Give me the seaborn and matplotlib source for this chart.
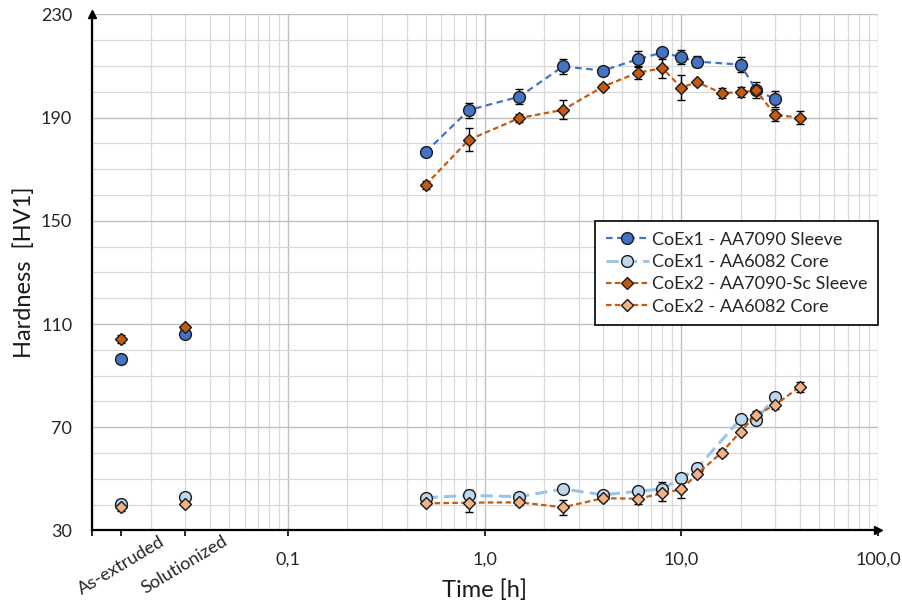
import numpy as np
import pandas as pd
import matplotlib.pyplot as plt
import seaborn as sns
from matplotlib.ticker import LogLocator, MultipleLocator, NullLocator, NullFormatter

# ── Data ──
# aged states, time in hours
t_sleeve1 = [0.5, 0.83, 1.5, 2.5, 4, 6, 8, 10, 12, 20, 24, 30]
hv_sleeve1 = [176.6, 192.9, 198.1, 209.8, 208.2, 212.6, 215.2, 213.4, 211.7, 210.5, 200.7, 197.1]
err_sleeve1 = [0.5, 2.9, 3.0, 3.0, 0.5, 3.0, 1.0, 2.6, 2.3, 3.0, 3.0, 3.0]

t_core1 = [0.5, 0.83, 1.5, 2.5, 4, 6, 8, 10, 12, 20, 24, 30]
hv_core1 = [42.7, 43.6, 43.1, 46.1, 43.8, 45.2, 46.1, 50.2, 54.1, 73.2, 72.8, 81.9]
err_core1 = [0.5, 2.0, 0.5, 0.5, 0.5, 0.5, 2.5, 0.5, 0.5, 1.0, 0.5, 0.5]

t_sleeve2 = [0.5, 0.83, 1.5, 2.5, 4, 6, 8, 10, 12, 16, 20, 24, 30, 40]
hv_sleeve2 = [163.9, 181.4, 189.8, 193.0, 202.0, 207.4, 209.1, 201.6, 203.7, 199.5, 199.8, 200.5, 191.0, 190.0]
err_sleeve2 = [1.5, 4.5, 1.5, 3.7, 1.0, 2.6, 3.6, 4.8, 1.0, 2.0, 2.0, 1.0, 2.3, 2.6]

t_core2 = [0.5, 0.83, 1.5, 2.5, 4, 6, 8, 10, 12, 16, 20, 24, 30, 40]
hv_core2 = [40.5, 40.8, 40.9, 39.0, 42.5, 42.3, 44.4, 46.0, 51.8, 60.2, 68.3, 74.8, 78.6, 85.7]
err_core2 = [0.5, 3.5, 1.0, 3.0, 1.0, 2.0, 3.0, 3.5, 1.0, 1.5, 1.0, 1.5, 1.5, 2.0]

# as-extruded / solutionized states, placed left of the time axis
cat_labels = ["As-extruded", "Solutionized"]
cat_x = [0.0141, 0.0297]
cat_sleeve1 = [96.4, 106.2]
cat_core1 = [40.3, 43.1]
cat_sleeve2 = [104.2, 108.8]
cat_core2 = [39.2, 40.3]
cat_err = [1.5, 1.0]

series_names = ["CoEx1 - AA7090 Sleeve", "CoEx1 - AA6082 Core",
                "CoEx2 - AA7090-Sc Sleeve", "CoEx2 - AA6082 Core"]

y_ticks = [30, 70, 110, 150, 190, 230]
x_ticks = [0.01, 0.1, 1, 10, 100]
x_ticklabels = ["", "0,1", "1,0", "10,0", "100,0"]

sns.set_theme(style="whitegrid")
plt.rcParams['font.family'] = ['Lato', 'DejaVu Sans']

fig = plt.figure(figsize=(9.03, 6.06), dpi=100)
ax = fig.add_axes([0.1015, 0.1246, 0.8708, 0.8518])
ax.set_facecolor("white")

series = [
    (t_sleeve1, hv_sleeve1, err_sleeve1, cat_sleeve1, "o", "#4472C4", "#4472C4", (3, 2), 1.6, 8.5),
    (t_core1, hv_core1, err_core1, cat_core1, "o", "#BDD7EE", "#9DC3E6", (4, 2), 2.2, 8.5),
    (t_sleeve2, hv_sleeve2, err_sleeve2, cat_sleeve2, "D", "#C55A11", "#C55A11", (2.5, 1.5), 1.6, 6.0),
    (t_core2, hv_core2, err_core2, cat_core2, "D", "#F4B183", "#C55A11", (2.5, 1.5), 1.6, 6.0),
]

for name, (t, hv, err, cat, mk, face, line, dash, lw, ms) in zip(series_names, series):
    ax.errorbar(t, hv, yerr=err, fmt="none", ecolor="black", elinewidth=1,
                capsize=3, capthick=1, zorder=2)
    sns.lineplot(x=t, y=hv, ax=ax, color=line, linewidth=lw, dashes=False,
                 linestyle=(0, dash), marker=mk, markersize=ms,
                 markerfacecolor=face, markeredgecolor="#1a1a1a",
                 markeredgewidth=1, label=name, errorbar=None, zorder=3)
    ax.errorbar(cat_x, cat, yerr=cat_err, fmt=mk, markersize=ms,
                markerfacecolor=face, markeredgecolor="#1a1a1a",
                markeredgewidth=1, ecolor="black", elinewidth=1,
                capsize=3, zorder=3)

# axes
ax.set_xscale("log")
ax.set_xlim(0.01, 100)
ax.set_ylim(30, 230)

ax.set_xticks(x_ticks, x_ticklabels)
ax.xaxis.set_minor_locator(LogLocator(base=10, subs=np.arange(2, 10), numticks=20))
ax.xaxis.set_minor_formatter(NullFormatter())
ax.set_yticks(y_ticks)
ax.yaxis.set_minor_locator(MultipleLocator(10))

ax.grid(which="major", color="#BFBFBF", linewidth=1.0)
ax.grid(which="minor", color="#D9D9D9", linewidth=0.9)
ax.set_axisbelow(True)

ax.tick_params(axis="x", which="major", direction="out", length=4, width=1.2,
               color="black", pad=11, labelsize=13, labelcolor="#262626", bottom=True)
ax.tick_params(axis="x", which="minor", length=0)
ax.tick_params(axis="y", which="both", length=0, pad=14, labelsize=13, labelcolor="#262626")

for side in ["top", "right"]:
    ax.spines[side].set_visible(False)
for side in ["left", "bottom"]:
    ax.spines[side].set_color("black")
    ax.spines[side].set_linewidth(1.6)

# arrow heads on the axes
ax.plot(1, 0, marker=">", color="black", markersize=6, transform=ax.transAxes, clip_on=False)
ax.plot(0, 1, marker="^", color="black", markersize=6, transform=ax.transAxes, clip_on=False)

# category labels for the non-aged states
sec = ax.secondary_xaxis("bottom")
sec.set_xticks(cat_x, cat_labels)
sec.xaxis.set_minor_locator(NullLocator())
sec.tick_params(axis="x", direction="out", length=4, width=1.2, color="black",
                pad=-2, labelsize=13, labelcolor="#262626", labelrotation=31)
for lab in sec.get_xticklabels():
    lab.set_horizontalalignment("center")
sec.spines["bottom"].set_visible(False)

ax.set_xlabel("Time [h]", fontsize=17, color="#1a1a1a", labelpad=9)
ax.set_ylabel("Hardness  [HV1]", fontsize=17, color="#1a1a1a", labelpad=4)

leg = ax.legend(loc="upper right", bbox_to_anchor=(1.0, 0.60), borderaxespad=0,
                fontsize=13, frameon=True, fancybox=False, framealpha=1,
                edgecolor="black", handlelength=2.4, handletextpad=0.15,
                borderpad=0.6, labelspacing=0.35)
leg.get_frame().set_linewidth(1.2)

fig.savefig("out.png", dpi=100)
